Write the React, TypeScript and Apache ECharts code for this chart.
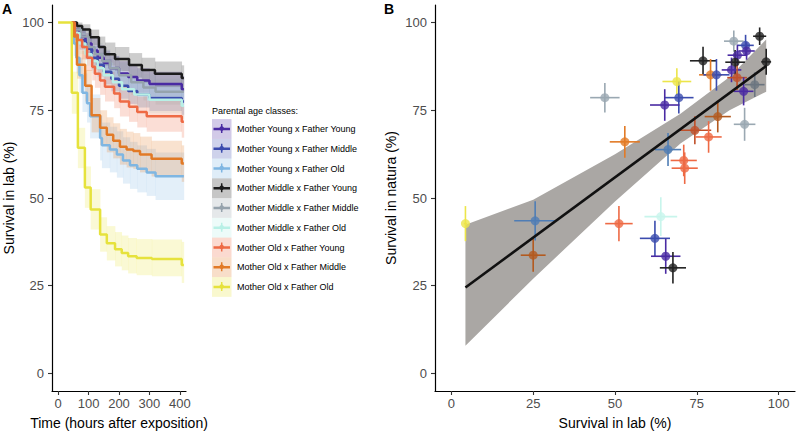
import React, { useEffect, useRef } from "react";
import * as echarts from "echarts";

const FONT = "'Liberation Sans', Arial, Helvetica, sans-serif";

// ---------- Panel A : survival curves ----------
const classNames = [
  "Mother Young x Father Young",
  "Mother Young x Father Middle",
  "Mother Young x Father Old",
  "Mother Middle x Father Young",
  "Mother Middle x Father Middle",
  "Mother Middle x Father Old",
  "Mother Old x Father Young",
  "Mother Old x Father Middle",
  "Mother Old x Father Old",
];
const classColors = [
  "#4a2ba3", "#3b4cae", "#7fb6e2", "#1c1c1c", "#96a3ad",
  "#b8f0e6", "#ee6a45", "#e27a26", "#e6e23c",
];

const tEnd = 413;
const xTicksA = [0, 100, 200, 300, 400];
const yTicks = [0, 25, 50, 75, 100];

const yyT = [45, 55, 70, 90, 110, 130, 150, 170, 200, 230, 260, 300, 406];
const yyS = [100, 98, 96, 94, 92, 90, 88.5, 87, 85.5, 84.5, 83.5, 82.5, 81];
const yyUp = [100, 99.5, 98.5, 97, 95.5, 93.5, 92, 90.5, 89, 88, 87, 86, 84.8];
const yyLo = [100, 96.5, 93.5, 91, 88.5, 86.5, 85, 83.5, 82, 81, 80, 79, 77.2];

const ymT = [45, 55, 70, 90, 110, 130, 150, 175, 200, 230, 260, 300, 406];
const ymS = [100, 97, 95, 92.5, 90, 88, 86, 84, 82, 80.5, 79.5, 78.5, 77.5];
const ymUp = [100, 99, 97.7, 95.5, 93.3, 91.4, 89.6, 87.6, 85.7, 84.2, 83.2, 82.2, 81.3];
const ymLo = [100, 95, 92.3, 89.5, 86.7, 84.6, 82.4, 80.4, 78.3, 76.8, 75.8, 74.8, 73.7];

const yoT = [45, 52, 60, 70, 80, 95, 105, 138, 144, 170, 193, 213, 236, 260, 291, 320];
const yoS = [100, 94, 90, 85, 80, 77, 73.3, 67.1, 65, 63.8, 62.4, 60.7, 59.3, 58.3, 57.3, 56.2];
const yoUp = [100, 97.5, 94.5, 90, 85.5, 82.5, 79.5, 73.5, 71.5, 70.3, 69, 67.3, 66, 65, 64, 63];
const yoLo = [100, 90.5, 85.5, 80, 74.5, 71.5, 67, 60.7, 58.5, 57.3, 55.8, 54.1, 52.6, 51.6, 50.6, 49.4];

const myT = [45, 62, 79, 105, 134, 154, 187, 233, 275, 318, 406];
const myS = [100, 99, 98, 95.8, 93, 91, 89.6, 87.9, 86.5, 85.4, 84.2];
const myUp = [100, 100, 99.5, 98, 96, 94.3, 93, 91.3, 90, 88.9, 87.8];
const myLo = [100, 97.5, 96.2, 93.5, 90, 87.7, 86.2, 84.3, 82.8, 81.6, 80.4];

const mmT = [45, 52, 75, 100, 120, 145, 170, 200, 240, 280, 320];
const mmS = [100, 98, 96, 93, 91, 89, 87, 85, 83, 81.5, 80.3];
const mmUp = [100, 99.5, 98.5, 96, 94.2, 92.3, 90.4, 88.5, 86.6, 85.2, 84];
const mmLo = [100, 96.5, 93.5, 90, 87.8, 85.7, 83.6, 81.5, 79.4, 77.8, 76.6];

const moT = [45, 50, 70, 90, 110, 130, 150, 180, 210, 250, 300, 406];
const moS = [100, 97, 94, 91, 89, 87, 85, 83, 81, 79.5, 78, 76.3];
const moUp = [100, 99, 97, 94.3, 92.4, 90.5, 88.6, 86.6, 84.7, 83.2, 81.8, 80.1];
const moLo = [100, 95, 91, 87.7, 85.6, 83.5, 81.4, 79.4, 77.3, 75.8, 74.2, 72.5];

const oyT = [45, 55, 65, 79, 95, 112, 121, 138, 154, 184, 203, 233, 260, 291, 406];
const oyS = [100, 96.5, 95, 93, 90, 87.4, 85.4, 83.5, 81.7, 79.8, 77.5, 76, 74.5, 73.3, 71.7];
const oyUp = [100, 99, 98, 96.5, 93.8, 91.3, 89.4, 87.6, 85.9, 84, 81.8, 80.3, 78.9, 77.7, 76.2];
const oyLo = [100, 94, 92, 89.5, 86.2, 83.5, 81.4, 79.4, 77.5, 75.6, 73.2, 71.7, 70.1, 68.9, 67.2];

const omT = [45, 52, 62, 89, 110, 138, 160, 181, 203, 225, 247, 269, 307, 406];
const omS = [100, 96, 88, 82, 73.6, 70, 68, 66.3, 64.6, 63.8, 63.4, 62.4, 61.2, 59.8];
const omUp = [100, 98.5, 92, 86.5, 78.5, 75, 73, 71.3, 69.7, 68.9, 68.5, 67.5, 66.3, 65];
const omLo = [100, 93.5, 84, 77.5, 68.7, 65, 63, 61.3, 59.5, 58.7, 58.3, 57.3, 56.1, 54.6];

const ooT = [0, 45, 65, 88, 107, 138, 160, 187, 209, 230, 258, 308, 406];
const ooS = [100, 80, 64.3, 53, 46.7, 39.6, 37.1, 35.4, 34.3, 33.4, 32.9, 32.6, 30.9];
const ooUp = [100, 86, 70, 59, 52.5, 44.5, 42, 40.3, 39.3, 38.6, 38.3, 38.2, 37.5];
const ooLo = [100, 74, 58.5, 47.2, 41, 34.7, 32.2, 30.5, 29.4, 28.5, 28, 27.7, 25.8];

const curveT = [yyT, ymT, yoT, myT, mmT, moT, oyT, omT, ooT];
const curveS = [yyS, ymS, yoS, myS, mmS, moS, oyS, omS, ooS];
const curveUp = [yyUp, ymUp, yoUp, myUp, mmUp, moUp, oyUp, omUp, ooUp];
const curveLo = [yyLo, ymLo, yoLo, myLo, mmLo, moLo, oyLo, omLo, ooLo];

// ---------- Panel B : lab vs natura ----------
const xTicksB = [0, 25, 50, 75, 100];
const labX = [94.2, 86.3, 89.9, 90.2, 87.4, 86.7, 96.2, 76.9, 79.2, 81, 85.6, 87.3, 92.7, 89.3, 46.9, 68.9, 69.5, 65.2, 81.4, 89.6, 74.4, 78.6, 53, 66.2, 71, 71.3, 51.2, 64, 62.2, 65.5, 67.7, 4.3, 25.6, 25];
const natY = [96.1, 94.7, 93.5, 91.9, 90.7, 88.7, 88.8, 89.1, 85.1, 85.1, 86.5, 84.3, 82.3, 80.4, 78.6, 83.2, 78.6, 76.5, 73.2, 71, 69.3, 67.4, 66, 63.8, 60.7, 58.5, 42.7, 44.7, 38.5, 33.4, 30.1, 42.7, 43.5, 33.7];
const labErr = [2, 3, 2.5, 2.5, 3, 3, 1.5, 4, 3.5, 4, 3, 3, 3, 3, 4.5, 4.4, 4.5, 4.5, 4, 3.3, 5, 4, 4.6, 4, 4, 4, 4.2, 5, 4.6, 4.5, 4, 0.5, 6.4, 3.8];
const natErr = [2.5, 3, 3, 2.5, 3, 3.5, 3.7, 4, 4.5, 4.5, 3.5, 3.5, 3.5, 4, 4.2, 3.8, 4.5, 4.5, 4.5, 4.7, 4, 4.5, 4.5, 4.7, 4.5, 4.5, 5, 5.5, 5, 5, 4.5, 5, 5.6, 4.7];
const pointColors = [
  "#222222", "#9aa8b2", "#3b4cae", "#4a2ba3", "#4a2ba3", "#222222", "#222222", "#222222", "#e27a26", "#3b4cae",
  "#4a2ba3", "#c0502a", "#6b7580", "#4a2ba3", "#9aa8b2", "#ece54a", "#3b4cae", "#4a2ba3", "#b35a1f", "#9aa8b2",
  "#c0502a", "#ee6a45", "#e27a26", "#4f7db5", "#ee6a45", "#ee6a45", "#ee6a45", "#c8f5ec", "#3b4cae", "#4a2ba3",
  "#222222", "#ece54a", "#4f7db5", "#b35a1f",
];
const fitX = [4.3, 96.2];
const fitY = [24.5, 87.6];
const ciX = [4.3, 25, 50, 70, 85, 96.2];
const ciLo = [7.9, 27, 49, 65.5, 75, 80.3];
const ciUp = [42.4, 49.5, 62.5, 74, 84.5, 95.2];

function hexA(hex: string, a: number) {
  const n = parseInt(hex.slice(1), 16);
  return `rgba(${(n >> 16) & 255},${(n >> 8) & 255},${n & 255},${a})`;
}

const axisCommon = {
  axisLine: { show: true, onZero: false, lineStyle: { color: "#000", width: 1.2 } },
  axisTick: { show: true, length: 4, lineStyle: { color: "#333", width: 1.1 } },
  splitLine: { show: false },
  nameTextStyle: { fontFamily: FONT, fontSize: 14, color: "#000" },
};

export default function App() {
  const ref = useRef<HTMLDivElement>(null);
  useEffect(() => {
    if (!ref.current) return;
    const chart = echarts.init(ref.current, null, { renderer: "svg" });
    const series: any[] = [];

    // bands (panel A)
    curveT.forEach((t, k) => {
      const data = t.map((ti, i) => [ti, i < t.length - 1 ? t[i + 1] : tEnd, curveLo[k][i], curveUp[k][i]]);
      series.push({
        type: "custom",
        xAxisIndex: 0,
        yAxisIndex: 0,
        silent: true,
        encode: { x: [0, 1], y: [2, 3] },
        data,
        renderItem: (params: any, api: any) => {
          const p1 = api.coord([api.value(0), api.value(3)]);
          const p2 = api.coord([api.value(1), api.value(2)]);
          return {
            type: "rect",
            shape: { x: p1[0], y: p1[1], width: p2[0] - p1[0] + 0.3, height: p2[1] - p1[1] },
            style: { fill: hexA(classColors[k], 0.22) },
          };
        },
      });
    });
    // lines (panel A)
    curveT.forEach((t, k) => {
      const data = t.map((ti, i) => [ti, curveS[k][i]]);
      data.push([tEnd, curveS[k][curveS[k].length - 1]]);
      series.push({
        type: "line",
        xAxisIndex: 0,
        yAxisIndex: 0,
        step: "end",
        showSymbol: false,
        silent: true,
        data,
        lineStyle: { color: classColors[k], width: 2.5 },
        itemStyle: { color: classColors[k] },
      });
    });

    // Panel B confidence band
    series.push({
      type: "custom",
      xAxisIndex: 1,
      yAxisIndex: 1,
      silent: true,
      data: ciX.map((x, i) => [x, ciLo[i], ciUp[i]]),
      encode: { x: 0, y: [1, 2] },
      renderItem: (params: any, api: any) => {
        if (params.dataIndex !== 0) return null;
        const pts: number[][] = [];
        ciX.forEach((x, i) => pts.push(api.coord([x, ciUp[i]])));
        for (let i = ciX.length - 1; i >= 0; i--) pts.push(api.coord([ciX[i], ciLo[i]]));
        return { type: "polygon", shape: { points: pts }, style: { fill: "#aaa7a4" } };
      },
    });
    // error bars
    series.push({
      type: "custom",
      xAxisIndex: 1,
      yAxisIndex: 1,
      silent: true,
      data: labX.map((x, i) => [x, natY[i], labErr[i], natErr[i], i]),
      encode: { x: 0, y: 1 },
      renderItem: (params: any, api: any) => {
        const x = api.value(0), y = api.value(1), ex = api.value(2), ey = api.value(3);
        const c = pointColors[api.value(4)];
        const a = api.coord([x - ex, y]);
        const b = api.coord([x + ex, y]);
        const c1 = api.coord([x, y - ey]);
        const c2 = api.coord([x, y + ey]);
        return {
          type: "group",
          children: [
            { type: "line", shape: { x1: a[0], y1: a[1], x2: b[0], y2: b[1] }, style: { stroke: c, lineWidth: 1.6 } },
            { type: "line", shape: { x1: c1[0], y1: c1[1], x2: c2[0], y2: c2[1] }, style: { stroke: c, lineWidth: 1.6 } },
          ],
        };
      },
    });
    // regression line
    series.push({
      type: "line",
      xAxisIndex: 1,
      yAxisIndex: 1,
      showSymbol: false,
      silent: true,
      data: fitX.map((x, i) => [x, fitY[i]]),
      lineStyle: { color: "#111", width: 2.6 },
    });
    // points
    series.push({
      type: "scatter",
      xAxisIndex: 1,
      yAxisIndex: 1,
      silent: true,
      symbolSize: 9,
      data: labX.map((x, i) => ({ value: [x, natY[i]], itemStyle: { color: pointColors[i] } })),
    });

    // Legend graphic
    const legendChildren: any[] = [
      { type: "text", left: 212, top: 106, style: { text: "Parental age classes:", font: `9px ${FONT}`, fill: "#000" } },
    ];
    classNames.forEach((name, i) => {
      const cy = 129 + i * 19.75;
      const col = classColors[i];
      legendChildren.push(
        { type: "rect", shape: { x: 212, y: cy - 9.9, width: 19.5, height: 19.75 }, style: { fill: hexA(col, 0.25) } },
        { type: "line", shape: { x1: 213.5, y1: cy, x2: 230, y2: cy }, style: { stroke: col, lineWidth: 2.5 } },
        { type: "line", shape: { x1: 221.7, y1: cy - 5, x2: 221.7, y2: cy + 4 }, style: { stroke: col, lineWidth: 1.5 } },
        { type: "circle", shape: { cx: 221.7, cy: cy - 0.5, r: 2.2 }, style: { fill: col } },
        { type: "text", x: 237, y: cy, style: { text: name, font: `9px ${FONT}`, fill: "#000", verticalAlign: "middle" } }
      );
    });

    const option: any = {
      animation: false,
      textStyle: { fontFamily: FONT },
      grid: [
        { left: 52, right: 610, top: 5, bottom: 38, containLabel: false },
        { left: 435, right: 1, top: 5, bottom: 38, containLabel: false },
      ],
      xAxis: [
        {
          ...axisCommon,
          type: "value",
          gridIndex: 0,
          min: -20,
          max: 420,
          name: "Time (hours after exposition)",
          nameLocation: "middle",
          nameGap: 25,
          axisTick: { ...axisCommon.axisTick, customValues: xTicksA },
          axisLabel: { customValues: xTicksA, fontFamily: FONT, fontSize: 13, color: "#4d4d4d", margin: 6 },
        },
        {
          ...axisCommon,
          type: "value",
          gridIndex: 1,
          min: -5,
          max: 105,
          name: "Survival in lab (%)",
          nameLocation: "middle",
          nameGap: 25,
          axisTick: { ...axisCommon.axisTick, customValues: xTicksB },
          axisLabel: { customValues: xTicksB, fontFamily: FONT, fontSize: 13, color: "#4d4d4d", margin: 6 },
        },
      ],
      yAxis: [
        {
          ...axisCommon,
          type: "value",
          gridIndex: 0,
          min: -5,
          max: 105,
          name: "Survival in lab (%)",
          nameLocation: "middle",
          nameGap: 36,
          axisTick: { ...axisCommon.axisTick, customValues: yTicks },
          axisLabel: { customValues: yTicks, fontFamily: FONT, fontSize: 13, color: "#4d4d4d", margin: 8 },
        },
        {
          ...axisCommon,
          type: "value",
          gridIndex: 1,
          min: -5,
          max: 105,
          name: "Survival in natura (%)",
          nameLocation: "middle",
          nameGap: 37,
          axisTick: { ...axisCommon.axisTick, customValues: yTicks },
          axisLabel: { customValues: yTicks, fontFamily: FONT, fontSize: 13, color: "#4d4d4d", margin: 8 },
        },
      ],
      series,
      graphic: [
        { type: "text", left: 2, top: 2, style: { text: "A", font: `bold 14px ${FONT}`, fill: "#000" } },
        { type: "text", left: 384, top: 2, style: { text: "B", font: `bold 14px ${FONT}`, fill: "#000" } },
        { type: "group", children: legendChildren },
      ],
    };
    chart.setOption(option);
    return () => chart.dispose();
  }, []);
  return <div ref={ref} style={{ width: 796, height: 435, position: "absolute", left: 0, top: 0 }} />;
}
